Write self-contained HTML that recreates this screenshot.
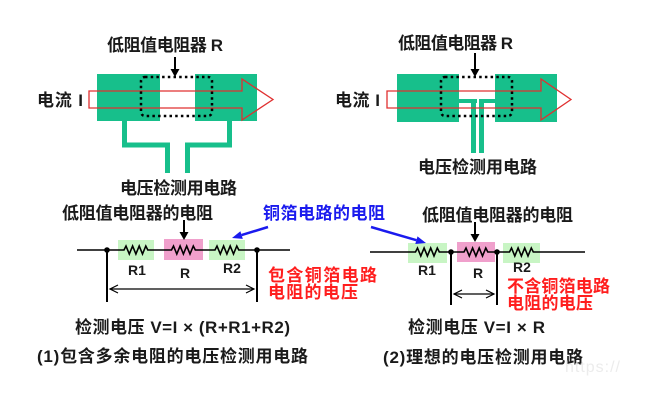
<!DOCTYPE html>
<html><head><meta charset="utf-8"><style>
html,body{margin:0;padding:0;background:#fff;}
svg{display:block;}
text{font-family:"Liberation Sans","Noto Sans CJK SC",sans-serif;font-weight:bold;font-size:17px;fill:#1a1a1a;}
.r{font-size:14px;}
</style></head><body>
<svg width="645" height="401" viewBox="0 0 645 401" xmlns="http://www.w3.org/2000/svg">
<rect width="645" height="401" fill="#fff"/>

<!-- Top-left -->
<rect x="97" y="74" width="63" height="47" fill="#17bf8b"/>
<rect x="195" y="74" width="62" height="47" fill="#17bf8b"/>
<path d="M124.5 121 V145 H167.5 V173" stroke="#17bf8b" stroke-width="5" fill="none"/>
<path d="M229.5 121 V145 H187.5 V173" stroke="#17bf8b" stroke-width="5" fill="none"/>
<path d="M89 91 H242 V79 L273 99.5 L242 120 V108 H89 Z" fill="none" stroke="#e03030" stroke-width="1.3"/>
<rect x="141" y="77" width="71" height="39" rx="4" fill="none" stroke="#000" stroke-width="2.5" stroke-dasharray="2.5,3.2"/>
<line x1="175" y1="57" x2="175" y2="70" stroke="#000" stroke-width="2"/>
<polygon points="170.5,69 179.5,69 175,77" fill="#000"/>
<text x="107" y="51" textLength="116">低阻值电阻器 R</text>
<text x="37" y="106" textLength="46">电流 I</text>
<text x="120" y="194" textLength="117">电压检测用电路</text>

<!-- Top-right -->
<rect x="397" y="74" width="62" height="48" fill="#17bf8b"/>
<rect x="495" y="74" width="62" height="48" fill="#17bf8b"/>
<rect x="459" y="99" width="18" height="4" fill="#17bf8b"/>
<rect x="471" y="99" width="5" height="54" fill="#17bf8b"/>
<rect x="479" y="99" width="16" height="4" fill="#17bf8b"/>
<rect x="479" y="99" width="5" height="54" fill="#17bf8b"/>
<path d="M387 91 H541 V79 L571 99.5 L541 120 V108 H387 Z" fill="none" stroke="#e03030" stroke-width="1.3"/>
<rect x="441" y="77" width="71" height="39" rx="4" fill="none" stroke="#000" stroke-width="2.5" stroke-dasharray="2.5,3.2"/>
<line x1="475" y1="53" x2="475" y2="70" stroke="#000" stroke-width="2"/>
<polygon points="470.5,69 479.5,69 475,77" fill="#000"/>
<text x="398" y="49" textLength="115">低阻值电阻器 R</text>
<text x="335" y="106" textLength="45">电流 I</text>
<text x="418" y="173" textLength="119">电压检测用电路</text>

<!-- Bottom-left -->
<rect x="118" y="240" width="36" height="20" fill="#c8f5c4"/>
<rect x="164" y="239" width="39" height="21" fill="#f0a0cc"/>
<rect x="209" y="240" width="36" height="20" fill="#c8f5c4"/>
<path d="M77 250 H124 l2,-4 l3.3,8 l3.3,-8 l3.3,8 l3.3,-8 l3.3,8 l3.3,-8 l2,4 H171.5 l2,-4 l3.3,8 l3.3,-8 l3.3,8 l3.3,-8 l3.3,8 l3.3,-8 l2,4 H215 l2,-4 l3.3,8 l3.3,-8 l3.3,8 l3.3,-8 l3.3,8 l3.3,-8 l2,4 H290" fill="none" stroke="#000" stroke-width="1.6"/>
<circle cx="107" cy="250" r="2.8" fill="#000"/>
<circle cx="257" cy="250" r="2.8" fill="#000"/>
<line x1="107" y1="250" x2="107" y2="302" stroke="#000" stroke-width="2"/>
<line x1="257" y1="250" x2="257" y2="302" stroke="#000" stroke-width="2"/>
<line x1="110" y1="289" x2="254" y2="289" stroke="#000" stroke-width="1.2"/>
<path d="M118 285 L110 289 L118 293 M246 285 L254 289 L246 293" fill="none" stroke="#000" stroke-width="1.2"/>
<line x1="184" y1="220" x2="184" y2="233" stroke="#000" stroke-width="2"/>
<polygon points="179.5,232 188.5,232 184,240" fill="#000"/>
<line x1="268" y1="227" x2="241.6" y2="235.1" stroke="#1a1aee" stroke-width="2.5"/>
<polygon points="232,238 240.4,231.3 242.8,238.9" fill="#1a1aee"/>
<text x="62" y="219" textLength="151">低阻值电阻器的电阻</text>
<text x="263" y="219" textLength="122" style="fill:#1a1aee">铜箔电路的电阻</text>
<text class="r" x="137" y="275" text-anchor="middle">R1</text>
<text class="r" x="185" y="278" text-anchor="middle">R</text>
<text class="r" x="232" y="273" text-anchor="middle">R2</text>
<text x="268" y="281" textLength="109" style="fill:#ff1e1e">包含铜箔电路</text>
<text x="268" y="298" textLength="90" style="fill:#ff1e1e">电阻的电压</text>
<text x="75" y="333" textLength="215">检测电压 V=I × (R+R1+R2)</text>
<text x="37" y="362" textLength="271">(1)包含多余电阻的电压检测用电路</text>

<!-- Bottom-right -->
<rect x="408" y="243" width="39" height="20" fill="#c8f5c4"/>
<rect x="457" y="242" width="38" height="20" fill="#f0a0cc"/>
<rect x="503" y="243" width="37" height="20" fill="#c8f5c4"/>
<path d="M370 252 H415.5 l2,-4 l3.3,8 l3.3,-8 l3.3,8 l3.3,-8 l3.3,8 l3.3,-8 l2,4 H464 l2,-4 l3.3,8 l3.3,-8 l3.3,8 l3.3,-8 l3.3,8 l3.3,-8 l2,4 H509.5 l2,-4 l3.3,8 l3.3,-8 l3.3,8 l3.3,-8 l3.3,8 l3.3,-8 l2,4 H585" fill="none" stroke="#000" stroke-width="1.6"/>
<circle cx="451" cy="252" r="2.8" fill="#000"/>
<circle cx="497" cy="252" r="2.8" fill="#000"/>
<line x1="451" y1="252" x2="451" y2="305" stroke="#000" stroke-width="2"/>
<line x1="497" y1="252" x2="497" y2="305" stroke="#000" stroke-width="2"/>
<line x1="454" y1="294" x2="494" y2="294" stroke="#000" stroke-width="1.2"/>
<path d="M462 290 L454 294 L462 298 M486 290 L494 294 L486 298" fill="none" stroke="#000" stroke-width="1.2"/>
<line x1="475" y1="222" x2="475" y2="235" stroke="#000" stroke-width="2"/>
<polygon points="470.5,234 479.5,234 475,242" fill="#000"/>
<line x1="371" y1="227" x2="416.4" y2="240.2" stroke="#1a1aee" stroke-width="2.5"/>
<polygon points="426,243 415.3,244 417.5,236.4" fill="#1a1aee"/>
<text x="422" y="221" textLength="151">低阻值电阻器的电阻</text>
<text class="r" x="427" y="275" text-anchor="middle">R1</text>
<text class="r" x="478" y="278" text-anchor="middle">R</text>
<text class="r" x="522" y="272" text-anchor="middle">R2</text>
<text x="507" y="292" textLength="103" style="fill:#ff1e1e">不含铜箔电路</text>
<text x="507" y="309" textLength="86" style="fill:#ff1e1e">电阻的电压</text>
<text x="408" y="333" textLength="137">检测电压 V=I × R</text>
<text x="383" y="363" textLength="200">(2)理想的电压检测用电路</text>
<text x="565" y="372" textLength="55" style="fill:#ececec;font-size:16px;font-weight:normal">https://</text>
</svg>
</body></html>
